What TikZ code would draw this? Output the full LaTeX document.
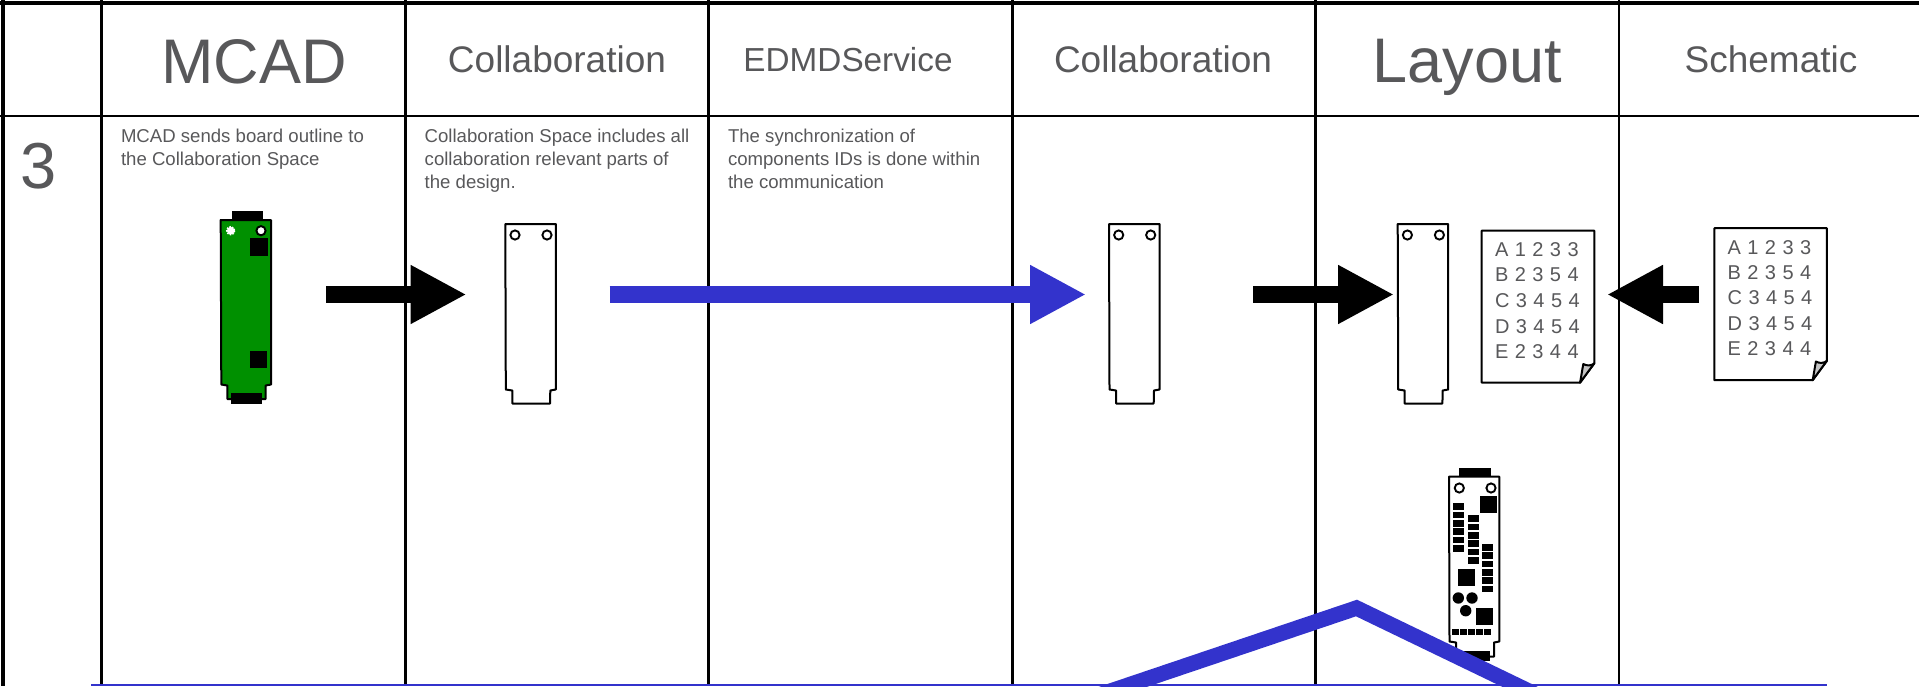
\documentclass[tikz,border=0pt]{standalone}
\usepackage{fontspec}
\setmainfont{Liberation Sans}
\newfontfamily\tablefont[LetterSpace=4.5]{Liberation Sans}
\usetikzlibrary{arrows.meta}
\definecolor{txtgray}{HTML}{58585A}
\definecolor{flowblue}{HTML}{3333CC}
\definecolor{boardgreen}{HTML}{009000}
\definecolor{foldgray}{HTML}{C4C4C4}
\tikzset{
  x=1pt,y=-1pt,
  every node/.style={inner sep=0pt,outer sep=0pt,text=txtgray},
  gridthick/.style={line width=4pt,black},
  gridthin/.style={line width=2.8pt,black},
  bigarrow/.style={line width=16.6pt,-{Triangle[length=56pt,width=55pt]}},
  outline/.style={line width=2pt,black,line join=round},
  part/.style={fill=black,draw=none},
  hole/.style={draw=black,line width=1.9pt,fill=white},
  headbig/.style={anchor=base,font=\fontsize{63}{63}\selectfont},
  headnum/.style={anchor=base,font=\fontsize{65}{65}\selectfont},
  headsmall/.style={anchor=base,font=\fontsize{37}{37}\selectfont},
  headmid/.style={anchor=base,font=\fontsize{33.3}{33.3}\selectfont},
  desc/.style={anchor=north west,align=left,font=\fontsize{18.6}{22.8}\selectfont},
  rowtext/.style={anchor=base west,font=\fontsize{20}{20}\tablefont},
  blankboard/.pic={
    \draw[outline,fill=white] (0,0) -- (50.5,0) -- (50.5,165.5) -- (45,166.5) -- (44.7,179.5) -- (7,179.5) -- (7,166.5) -- (0.5,165.5) -- cycle;
    \draw[hole] (9.7,11) circle (4.6);
    \draw[hole] (41.7,11) circle (4.6);
  },
  paper/.pic={
    \draw[outline,fill=white] (0,0) -- (112.6,0) -- (112.6,132.6) -- (98.3,152) -- (0,152) -- cycle;
    \draw[outline,fill=foldgray] (98.3,152) .. controls (99.5,146) and (100.5,139) .. (101.6,133.3) .. controls (105,135.5) and (110,135) .. (112.6,132.6) -- cycle;
    \node[rowtext] (-a) at (13.3,26) {A 1 2 3 3};
    \node[rowtext] (-b) at (13.3,51) {B 2 3 5 4};
    \node[rowtext] (-c) at (13.3,76.6) {C 3 4 5 4};
    \node[rowtext] (-d) at (13.3,102.6) {D 3 4 5 4};
    \node[rowtext] (-e) at (13.3,127.6) {E 2 3 4 4};
  }
}
\begin{document}
\begin{tikzpicture}
\useasboundingbox (0,0) rectangle (1919,686);
\clip (0,0) rectangle (1919,686);
% grid
\draw[gridthick] (0,2.5) -- (1919,2.5);
\draw[gridthick] (3.3,0) -- (3.3,686);
\draw[gridthin] (0,116) -- (1919,116);
\foreach \gx in {101.5,405.3,708.8,1012.3,1315.8,1619} \draw[gridthin] (\gx,0) -- (\gx,686);
% headers
\node[headbig] (h1) at (254,83) {MCAD};
\node[headsmall] (h2) at (557,72) {Collaboration};
\node[headmid] (h3) at (848,71) {EDMDService};
\node[headsmall] (h4) at (1163,72) {Collaboration};
\node[headbig] (h5) at (1467.5,82) {Layout};
\node[headsmall] (h6) at (1771,72) {Schematic};
\node[headnum] (rownum) at (39,188.5) {3};
% descriptions
\node[desc] (d1) at (121,129.3) {MCAD sends board outline to\\the Collaboration Space};
\node[desc] (d2) at (424.7,129.3) {Collaboration Space includes all\\collaboration relevant parts of\\the design.};
\node[desc] (d3) at (728,129.3) {The synchronization of\\components IDs is done within\\the communication};
% green board
\fill[part] (231.7,211) rectangle (263.3,222);
\draw[outline,fill=boardgreen] (220.7,220) -- (271,220) -- (271,384.5) -- (265.7,385.5) -- (265.7,399) -- (227.3,399) -- (227.3,385.5) -- (221.3,384.5) -- cycle;
\fill[part] (230.7,393) rectangle (262.3,404.3);
\fill[white] (230.7,230.7) circle (3.8);
\draw[white,line width=1.4pt,dash pattern=on 1.6pt off 1.2pt] (230.7,230.7) circle (4);
\draw[hole] (261,230.7) circle (4.6);
\fill[part] (250.3,238.3) rectangle (267.7,255.7);
\fill[part] (249.7,351) rectangle (267,368);
% blank boards
\pic (b2) at (505.3,224) {blankboard};
\pic (b3) at (1109,224) {blankboard};
\pic (b4) at (1397.7,224) {blankboard};
% papers
\pic (p1) at (1481.7,230.7) {paper};
\pic (p2) at (1714.3,228.2) {paper};
% arrows
\coordinate (a1s) at (326,294.5); \coordinate (a1e) at (466.5,294.5);
\coordinate (a2s) at (609.5,294.5); \coordinate (a2e) at (1086,294.5);
\coordinate (a3s) at (1253,294.5); \coordinate (a3e) at (1394,294.5);
\coordinate (a4s) at (1699,294.5); \coordinate (a4e) at (1607,294.5);
\draw[bigarrow,black] (a1s) -- (a1e);
\draw[bigarrow,flowblue] (a2s) -- (a2e);
\draw[bigarrow,black] (a3s) -- (a3e);
\draw[bigarrow,black] (a4s) -- (a4e);
% populated board
\fill[part] (1458.7,468.3) rectangle (1490.7,479);
\draw[outline,fill=white] (1449,476.7) -- (1499.3,476.7) -- (1499.3,641.5) -- (1494,642.5) -- (1494,656.7) -- (1456,656.7) -- (1456,642.5) -- (1449.5,641.5) -- cycle;
\fill[part] (1458,650.7) rectangle (1490,661);
\draw[hole] (1459.3,488) circle (4.6);
\draw[hole] (1491,488) circle (4.6);
\fill[part] (1479.7,495.7) rectangle (1497,512.7);
\fill[part] (1457.7,568.7) rectangle (1475,586);
\fill[part] (1476,607.7) rectangle (1493.3,625);
\foreach \i in {0,...,5} {
  \fill[part] (1453,503.3+8.33*\i) rectangle (1464.3,510+8.33*\i);
  \fill[part] (1468,515.3+8.33*\i) rectangle (1478.7,522+8.33*\i);
  \fill[part] (1482.3,544+8.33*\i) rectangle (1493.3,550.7+8.33*\i);
}
\foreach \i in {0,...,4} \fill[part] (1452.3+8*\i,629) rectangle (1458.8+8*\i,635.3);
\fill[part] (1458.3,598) circle (5.7);
\fill[part] (1472,598) circle (5.7);
\fill[part] (1465.7,610.7) circle (5.7);
% blue outline
\coordinate (bL) at (91,685); \coordinate (bR) at (1827,685);
\coordinate (cL) at (1093,697); \coordinate (cA) at (1356.5,608); \coordinate (cR) at (1541,697);
\draw[flowblue,line width=2.6pt] (bL) -- (bR);
\draw[flowblue,line width=15.4pt,line join=miter] (cL) -- (cA) -- (cR);
\end{tikzpicture}
\end{document}
